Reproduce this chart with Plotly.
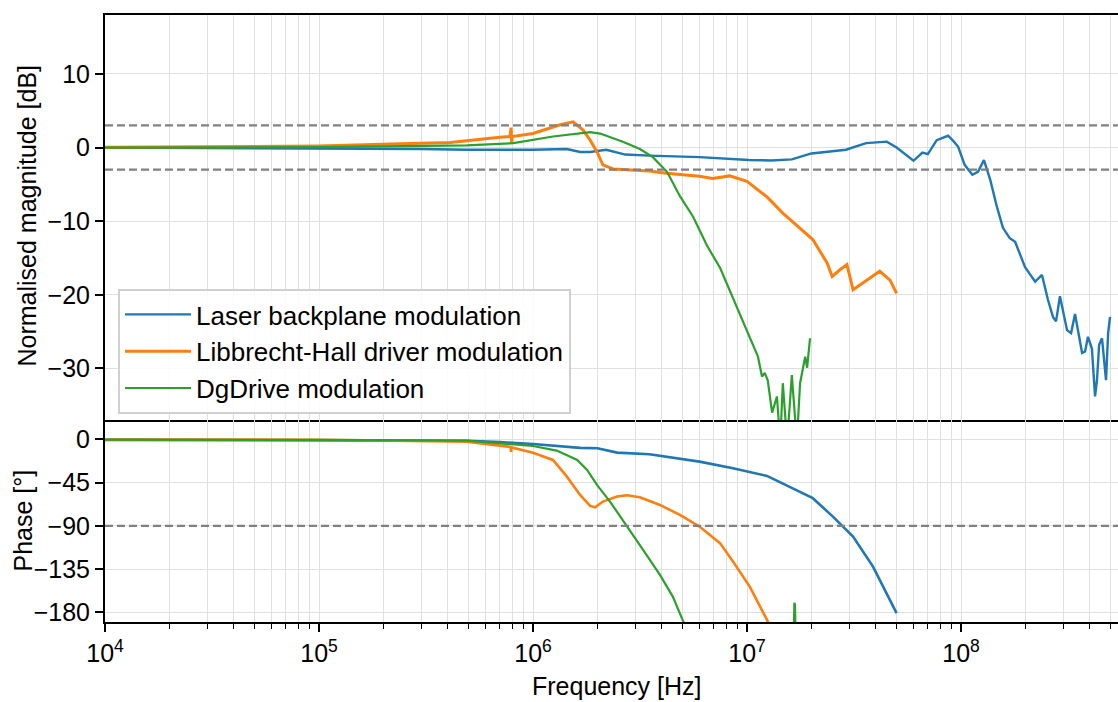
import plotly.graph_objects as go

# ---------------- data ----------------
blue_mag_f = [1e4, 3e4, 1e5, 3e5, 4.9e5, 7e5, 1.0e6, 1.44e6, 1.66e6, 1.85e6, 2.2e6, 2.7e6,
              3.5e6, 6.0e6, 8.6e6, 1.02e7, 1.3e7, 1.62e7, 2.0e7, 2.5e7, 2.9e7, 3.6e7, 4.5e7,
              5.0e7, 6.0e7, 6.6e7, 7.0e7, 7.7e7, 8.7e7, 9.2e7, 9.7e7, 1.04e8, 1.13e8, 1.2e8,
              1.28e8, 1.37e8, 1.47e8, 1.57e8, 1.69e8, 1.79e8, 1.99e8, 2.22e8, 2.39e8, 2.55e8,
              2.69e8, 2.78e8, 2.9e8, 3.13e8, 3.27e8, 3.41e8, 3.68e8, 3.8e8, 3.92e8, 4.09e8,
              4.23e8, 4.32e8, 4.42e8, 4.56e8, 4.76e8, 4.87e8, 4.97e8]
blue_mag = [0.0, -0.05, -0.1, -0.2, -0.3, -0.35, -0.3, -0.2, -0.6, -0.6, -0.3, -0.95,
            -1.1, -1.3, -1.55, -1.7, -1.75, -1.6, -0.8, -0.5, -0.3, 0.6, 0.8,
            0.0, -1.8, -0.7, -0.9, 1.0, 1.6, 0.9, 0.1, -2.35, -3.7, -3.3,
            -1.7, -4.4, -8.0, -10.9, -12.3, -12.8, -16.2, -18.2, -17.3, -20.7,
            -23.0, -23.6, -20.2, -24.8, -25.2, -22.6, -27.9, -27.7, -25.7, -27.3,
            -33.8, -31.6, -26.8, -25.9, -31.6, -25.2, -23.0]

orange_mag_f = [1e4, 3e4, 1e5, 2.4e5, 4.1e5, 7.0e5, 7.8e5, 7.9e5, 7.95e5, 8.0e5, 1.0e6,
                1.34e6, 1.54e6, 1.71e6, 1.85e6, 2.0e6, 2.12e6, 2.37e6, 3.5e6, 4.2e6, 6.0e6,
                6.9e6, 8.3e6, 1.0e7, 1.24e7, 1.47e7, 1.77e7, 2.03e7, 2.37e7, 2.5e7, 2.72e7,
                2.93e7, 3.13e7, 3.63e7, 4.17e7, 4.66e7, 5.0e7]
orange_mag = [0.05, 0.1, 0.2, 0.5, 0.7, 1.4, 1.5, 2.7, 0.6, 1.5, 1.9,
              3.1, 3.5, 2.4, 1.0, -0.7, -2.35, -2.9, -3.2, -3.5, -3.9,
              -4.2, -3.85, -4.6, -6.7, -8.9, -10.9, -12.5, -15.7, -17.5, -16.6,
              -15.9, -19.3, -18.0, -16.8, -18.0, -19.8]

green_mag_f = [1e4, 1e5, 4.9e5, 8.1e5, 1.24e6, 1.85e6, 2.06e6, 2.63e6, 3.16e6, 3.63e6,
               4.23e6, 4.86e6, 5.6e6, 6.5e6, 7.5e6, 8.6e6, 1.03e7, 1.125e7, 1.175e7, 1.21e7,
               1.25e7, 1.31e7, 1.38e7, 1.43e7, 1.47e7, 1.54e7, 1.62e7, 1.71e7, 1.77e7,
               1.87e7, 1.91e7, 1.97e7]
green_mag = [0.0, 0.05, 0.3, 0.6, 1.5, 2.1, 1.9, 0.8, -0.2, -1.3,
             -3.3, -6.6, -9.4, -13.3, -16.4, -20.4, -25.7, -28.4, -31.1, -30.6,
             -31.6, -36.0, -33.8, -40.0, -32.0, -40.0, -30.9, -40.0, -32.0,
             -28.4, -29.9, -25.9]

blue_ph_f = [1e4, 1e5, 4.9e5, 7e5, 1.0e6, 1.66e6, 2.0e6, 2.47e6, 3.5e6, 6.0e6, 8.6e6,
             1.24e7, 1.64e7, 2.03e7, 2.52e7, 3.13e7, 3.88e7, 5.0e7]
blue_ph = [-0.7, -0.8, -1.5, -3.0, -4.9, -9.0, -9.4, -13.9, -15.6, -23.3, -30.2,
           -38.1, -51.0, -61.3, -80.4, -101.2, -132.4, -180.8]

orange_ph_f = [1e4, 1e5, 4.9e5, 7e5, 7.85e5, 7.9e5, 7.95e5, 1.0e6, 1.24e6, 1.44e6, 1.66e6,
               1.85e6, 1.95e6, 2.12e6, 2.47e6, 2.75e6, 3.16e6, 3.92e6, 4.86e6, 6.0e6,
               7.48e6, 8.6e6, 1.03e7, 1.24e7, 1.3e7]
orange_ph = [-0.3, -0.5, -2.5, -6.8, -8.0, -13.0, -8.5, -14.0, -21.5, -38.9, -57.9,
             -69.3, -70.7, -64.8, -59.6, -58.2, -60.3, -68.3, -78.7, -90.8,
             -108.0, -127.2, -153.2, -187.8, -197.0]

green_ph_f = [1e4, 1e5, 4.9e5, 7e5, 1.0e6, 1.29e6, 1.61e6, 1.79e6, 1.99e6, 2.29e6, 2.75e6,
              3.27e6, 3.92e6, 4.5e6, 5.0e6, 5.2e6, None, 1.655e7, 1.665e7, 1.675e7, 1.685e7]
green_ph = [-0.5, -0.6, -1.5, -4.2, -7.0, -11.8, -21.5, -31.9, -47.5, -64.8, -90.1,
            -115.0, -141.0, -163.6, -187.8, -196.0, None, -200.0, -170.0, -172.0, -200.0]

series_names = ["Laser backplane modulation", "Libbrecht-Hall driver modulation", "DgDrive modulation"]
series_colors = ["#1f77b4", "#ff7f0e", "#2ca02c"]

major_x = [1e4, 1e5, 1e6, 1e7, 1e8]
major_x_text = ["10<sup>4</sup>", "10<sup>5</sup>", "10<sup>6</sup>", "10<sup>7</sup>", "10<sup>8</sup>"]
minor_x = [m * 10 ** e for e in range(4, 9) for m in range(2, 10)]
mag_ticks = [-30, -20, -10, 0, 10]
phase_ticks = [0, -45, -90, -135, -180]
mag_limits = [-3, 3]
phase_limit = -90

x_title = "Frequency [Hz]"
mag_title = "Normalised magnitude [dB]"
phase_title = "Phase [°]"

# ---------------- figure ----------------
FONT = "Liberation Sans, Arial, sans-serif"
GRID = "#e0e0e0"
FS = 25
PW = 1013.0  # plot-area width in px

fig = go.Figure()
mags = [(blue_mag_f, blue_mag, 2.4), (orange_mag_f, orange_mag, 3.0), (green_mag_f, green_mag, 2.2)]
phs = [(blue_ph_f, blue_ph, 2.6), (orange_ph_f, orange_ph, 2.6), (green_ph_f, green_ph, 2.2)]
for (f, v, w), name, col in zip(mags, series_names, series_colors):
    fig.add_trace(go.Scatter(x=f, y=v, mode="lines", name=name,
                             line=dict(color=col, width=w), xaxis="x", yaxis="y"))
for (f, v, w), name, col in zip(phs, series_names, series_colors):
    fig.add_trace(go.Scatter(x=f, y=v, mode="lines", name=name, showlegend=False,
                             connectgaps=False,
                             line=dict(color=col, width=w), xaxis="x2", yaxis="y2"))

split = (622 - 420) / 607.0
xrange_ = [4, 4 + (1118 - 105) / 214.0]

common_x = dict(type="log", range=xrange_, showgrid=True, gridcolor=GRID, gridwidth=1.3,
                tickmode="array", tickvals=major_x, ticktext=major_x_text,
                showline=True, linecolor="black", linewidth=2,
                zeroline=False)

fig.update_layout(
    width=1118, height=702,
    margin=dict(l=105, r=0, t=15, b=80),
    paper_bgcolor="white", plot_bgcolor="white",
    font=dict(family=FONT, size=FS, color="black"),
    showlegend=True,
    legend=dict(x=(118 - 105) / PW, y=(622 - 289) / 607.0, xanchor="left", yanchor="top",
                bgcolor="rgba(255,255,255,0.85)", bordercolor="#d0d0d0", borderwidth=2,
                font=dict(family=FONT, size=26, color="black"), itemwidth=66),
    xaxis=dict(common_x, domain=[0, 1], anchor="y", showticklabels=False, ticks="", mirror=True,
               minor=dict(tickmode="array", tickvals=minor_x, showgrid=True,
                          gridcolor=GRID, gridwidth=1.3, ticks="")),
    xaxis2=dict(common_x, domain=[0, 1], anchor="y2", showticklabels=True, ticks="outside",
                mirror=False,
                ticklen=8, tickwidth=1.6, tickcolor="black",
                tickfont=dict(family=FONT, size=FS),
                minor=dict(tickmode="array", tickvals=minor_x, showgrid=True,
                           gridcolor=GRID, gridwidth=1.3, ticks="outside", ticklen=5,
                           tickwidth=1.2, tickcolor="black")),
    yaxis=dict(domain=[split, 1], anchor="x", range=[-37, 18], tickmode="array",
               tickvals=mag_ticks, ticks="outside", ticklen=8, tickwidth=1.6, tickcolor="black",
               showgrid=True, gridcolor=GRID, gridwidth=1.3, zeroline=False,
               showline=True, linecolor="black", linewidth=2,
               tickfont=dict(family=FONT, size=FS)),
    yaxis2=dict(domain=[0, split], anchor="x2", range=[-190, 20], tickmode="array",
                tickvals=phase_ticks, ticks="outside", ticklen=8, tickwidth=1.6, tickcolor="black",
                showgrid=True, gridcolor=GRID, gridwidth=1.3, zeroline=False,
                showline=True, linecolor="black", linewidth=2,
                tickfont=dict(family=FONT, size=FS)),
)

# axis titles (placed as annotations for exact positioning)
fig.add_annotation(text=mag_title, xref="paper", yref="paper",
                   x=(26.5 - 105) / PW, y=(622 - 216) / 607.0, textangle=-90,
                   xanchor="center", yanchor="middle", showarrow=False,
                   font=dict(family=FONT, size=25, color="black"))
fig.add_annotation(text=phase_title, xref="paper", yref="paper",
                   x=(22.5 - 105) / PW, y=(622 - 521) / 607.0, textangle=-90,
                   xanchor="center", yanchor="middle", showarrow=False,
                   font=dict(family=FONT, size=25, color="black"))
fig.add_annotation(text=x_title, xref="paper", yref="paper",
                   x=(616.5 - 105) / PW, y=-(686 - 622) / 607.0,
                   xanchor="center", yanchor="middle", showarrow=False,
                   font=dict(family=FONT, size=25, color="black"))

for lv in mag_limits:
    fig.add_shape(type="line", xref="paper", x0=0, x1=1, yref="y", y0=lv, y1=lv,
                  line=dict(color="#808080", width=2.2, dash="8px,4px"), layer="above")
fig.add_shape(type="line", xref="paper", x0=0, x1=1, yref="y2", y0=phase_limit, y1=phase_limit,
              line=dict(color="#808080", width=2.2, dash="8px,4px"), layer="above")

fig.write_html("out.html")
